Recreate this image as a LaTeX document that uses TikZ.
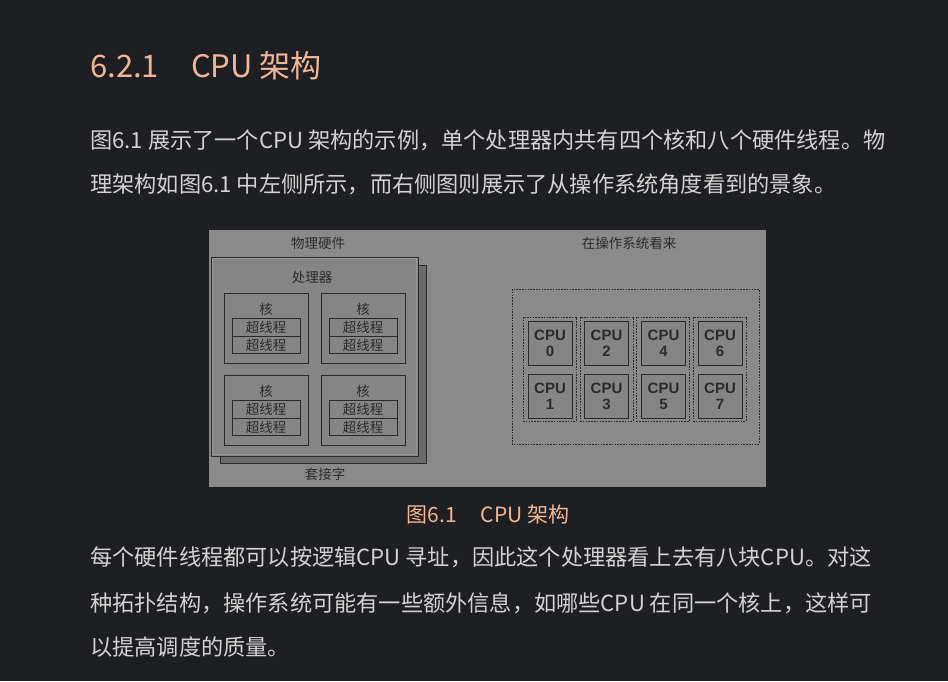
\documentclass[tikz,border=0pt]{standalone}
\usepackage{fontspec}
\setmainfont{Noto Sans CJK SC}
\newfontfamily\cpufont[BoldFont={Liberation Sans Bold}]{Liberation Sans}
\definecolor{pagebg}{HTML}{1E1F22}
\definecolor{headcol}{HTML}{F2B694}
\definecolor{bodycol}{HTML}{D2D2D2}
\definecolor{figbg}{HTML}{8A8A8A}
\definecolor{boxbg}{HTML}{858585}
\definecolor{shadowbg}{HTML}{6B6B6B}
\definecolor{inkcol}{HTML}{2B2B2B}
\begin{document}
\begin{tikzpicture}[x=1pt, y=-1pt,
    bodyline/.style={anchor=west, inner sep=0, text=bodycol, font=\fontsize{22.2}{26}\selectfont},
    figlabel/.style={inner sep=0, text=inkcol, font=\fontsize{13.5}{15}\selectfont},
    corebox/.style={draw=inkcol, line width=0.9pt, fill=boxbg, minimum width=84pt, minimum height=70pt, inner sep=0},
    threadbox/.style={draw=inkcol, line width=0.9pt, fill=boxbg, minimum width=68pt, minimum height=17.5pt, inner sep=0, text=inkcol, font=\fontsize{13.5}{15}\selectfont},
    cpubox/.style={draw=inkcol, line width=0.9pt, fill=boxbg, minimum width=44pt, minimum height=44pt, inner sep=0, align=center, text=inkcol, font=\cpufont\bfseries\fontsize{15}{16}\selectfont},
    groupbox/.style={draw=inkcol, line width=0.8pt, dash pattern=on 1.6pt off 1.2pt, minimum width=53pt, minimum height=104pt, inner sep=0}]
    % page
    \fill[pagebg] (0,0) rectangle (948,681);

    % heading
    \node[anchor=west, inner sep=0, text=headcol, font=\fontsize{31}{36}\selectfont] (heading) at (90,66) {6.2.1\hspace{32pt}CPU 架构};

    % first paragraph
    \node[bodyline] (parA1) at (90,140) {图6.1 展示了一个CPU 架构的示例，单个处理器内共有四个核和八个硬件线程。物};
    \node[bodyline] (parA2) at (90,184) {理架构如图6.1 中左侧所示，而右侧图则展示了从操作系统角度看到的景象。};

    % figure background
    \fill[figbg] (209,230) rectangle (766,487);

    % physical hardware
    \node[figlabel] (physlabel) at (318,243) {物理硬件};
    \draw[inkcol, line width=0.9pt, fill=shadowbg] (220,265) rectangle (426,463);
    \draw[inkcol, line width=1pt, fill=boxbg] (211,257) rectangle (418,456);
    \draw[boxbg!85!white, line width=0.5pt] (212.5,258.5) rectangle (416.5,454.5);
    \node[figlabel] (proclabel) at (312,277) {处理器};
    \node[figlabel] (socketlabel) at (325,474) {套接字};

    % cores with two hardware threads each
    \foreach \cx/\cy/\n in {266/293/a, 363/293/b, 266/375/c, 363/375/d} {
        \node[corebox] (core\n) at (\cx,\cy+35) {};
        \node[figlabel] (corelabel\n) at (\cx,\cy+16) {核};
        \node[threadbox] (thread\n1) at (\cx,\cy+34.5) {超线程};
        \node[threadbox] (thread\n2) at (\cx,\cy+52) {超线程};
    }

    % operating system view
    \node[figlabel] (oslabel) at (629,243) {在操作系统看来};
    \draw[inkcol, line width=0.8pt, dash pattern=on 1.6pt off 1.2pt] (512,289) rectangle (759,444);

    % logical cpus, grouped per core
    \foreach \gx/\cx/\i/\j in {549.5/550/0/1, 606.5/606.5/2/3, 663/663.5/4/5, 719.5/720/6/7} {
        \node[groupbox] (group\i) at (\gx,369) {};
        \node[cpubox] (cpu\i) at (\cx,343) {CPU\\\i};
        \node[cpubox] (cpu\j) at (\cx,396) {CPU\\\j};
    }

    % caption
    \node[inner sep=0, text=headcol, font=\fontsize{21}{24}\selectfont] (caption) at (488,515) {图6.1\hspace{24pt}CPU 架构};

    % second paragraph
    \node[bodyline] (parB1) at (90,557) {每个硬件线程都可以按逻辑CPU 寻址，因此这个处理器看上去有八块CPU。对这};
    \node[bodyline] (parB2) at (90,603) {种拓扑结构，操作系统可能有一些额外信息，如哪些CPU 在同一个核上，这样可};
    \node[bodyline] (parB3) at (90,647) {以提高调度的质量。};
\end{tikzpicture}
\end{document}
